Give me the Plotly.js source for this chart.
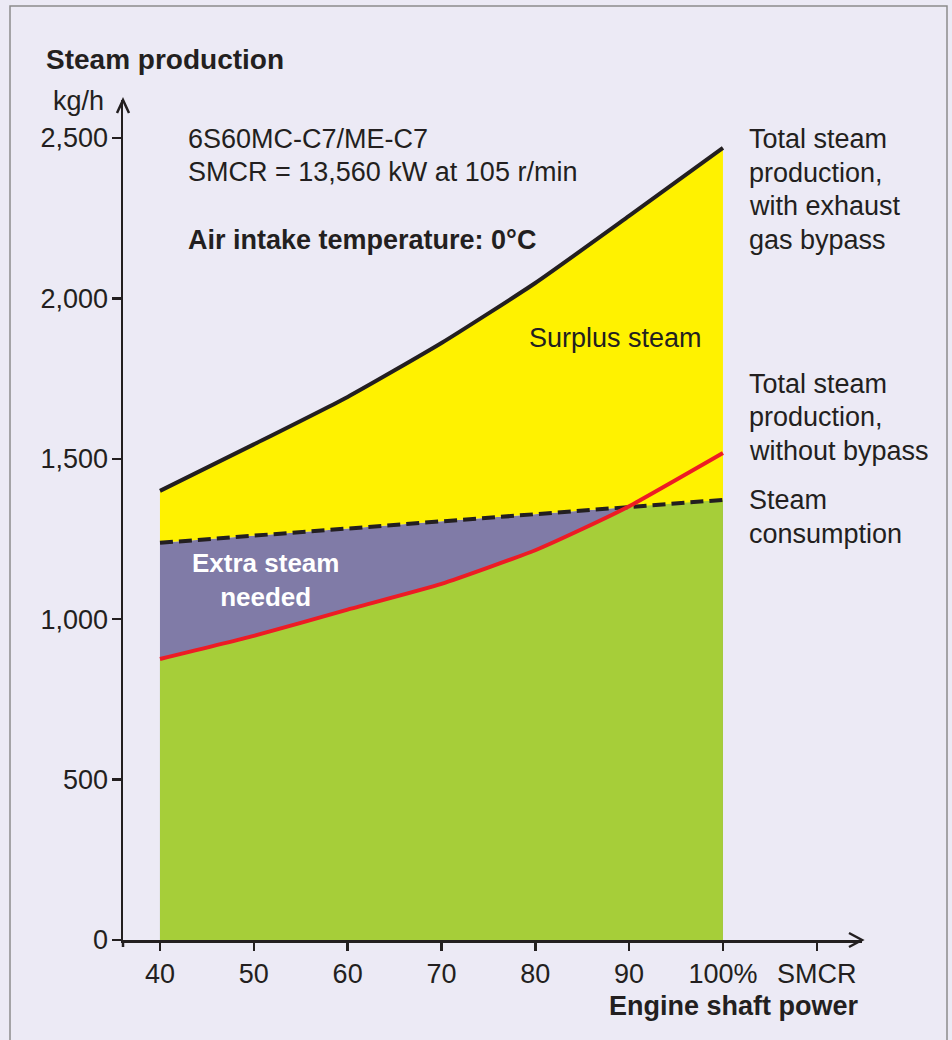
<!DOCTYPE html>
<html>
<head>
<meta charset="utf-8">
<script src="https://cdn.plot.ly/plotly-3.0.1.min.js"></script>
<style>
html,body{margin:0;padding:0;background:#eceaf5;}
#chart{width:952px;height:1040px;}
</style>
</head>
<body>
<div id="chart"></div>
<script>
// ---- data ----
const xPower = [40, 50, 60, 70, 80, 90, 100];
const steamWithBypass = [1400, 1545, 1693, 1861, 2048, 2257, 2469];
const steamConsumption = [1238, 1260, 1282, 1305, 1327, 1350, 1372];
const xPowerNoBypass = [40, 50, 60, 70, 80, 85, 90, 100];
const steamWithoutBypass = [876, 948, 1030, 1110, 1215, 1281, 1352, 1518];

const xTickVals = [40, 50, 60, 70, 80, 90, 100, 110];
const xTickText = ['40', '50', '60', '70', '80', '90', '100%', 'SMCR'];
const yTickVals = [0, 500, 1000, 1500, 2000, 2500];
const yTickText = ['0', '500', '1,000', '1,500', '2,000', '2,500'];

// ---- styling ----
const INK = '#231f20';
const BG = '#eceaf5';
const YELLOW = '#fff200';
const PURPLE = '#807ba7';
const GREEN = '#a6ce39';
const RED = '#ed1c24';
const FONT = 'Liberation Sans, Arial, sans-serif';
const FS = 27;

const W = 952, H = 1040;
const ML = 123, MR = 90, MT = 100, MB = 100;
const PW = W - ML - MR, PH = H - MT - MB;
const px = x => (x - ML) / PW;
const py = y => (H - MB - y) / PH;

const common = {mode: 'lines', hoverinfo: 'skip', showlegend: false};
const sp = {shape: 'spline', smoothing: 0.5};
const traces = [
  Object.assign({x: xPower, y: steamConsumption, fill: 'tozeroy', fillcolor: PURPLE, line: {width: 0, color: PURPLE}}, common),
  Object.assign({x: xPowerNoBypass, y: steamWithoutBypass, fill: 'tozeroy', fillcolor: GREEN, line: Object.assign({width: 0, color: GREEN}, sp)}, common),
  Object.assign({x: xPower, y: steamConsumption, line: {width: 0, color: YELLOW}}, common),
  Object.assign({x: xPower, y: steamWithBypass, fill: 'tonexty', fillcolor: YELLOW, line: Object.assign({width: 0, color: YELLOW}, sp)}, common),
  Object.assign({x: xPower, y: steamConsumption, line: {width: 4, color: INK, dash: '13px,6px'}}, common),
  Object.assign({x: xPowerNoBypass, y: steamWithoutBypass, line: Object.assign({width: 4, color: RED}, sp)}, common),
  Object.assign({x: xPower, y: steamWithBypass, line: Object.assign({width: 4, color: INK}, sp)}, common)
];

function txt(text, x, y, opts) {
  return Object.assign({
    text: text, x: px(x), y: py(y), xref: 'paper', yref: 'paper',
    xanchor: 'left', yanchor: 'middle', showarrow: false,
    font: {family: FONT, size: FS, color: INK}
  }, opts || {});
}

const annotations = [
  txt('<b>Steam production</b>', 44, 60, {font: {family: FONT, size: 28, color: INK}}),
  txt('kg/h', 106, 101, {xanchor: 'right'}),
  txt('6S60MC-C7/ME-C7', 186, 139),
  txt('SMCR = 13,560 kW at 105 r/min', 186, 172),
  txt('<b>Air intake temperature: 0°C</b>', 186, 240),
  txt('Surplus steam', 527, 338),
  txt('<b>Extra steam<br>needed</b>', 265, 580, {xanchor: 'center', align: 'center', font: {family: FONT, size: 26, color: '#ffffff'}}),
  txt('Total steam', 747, 139),
  txt('production,', 747, 173),
  txt('with exhaust', 747, 206),
  txt('gas bypass', 747, 240),
  txt('Total steam', 747, 384),
  txt('production,', 747, 417),
  txt('without bypass', 747, 451),
  txt('Steam', 747, 500),
  txt('consumption', 747, 534),
  txt('<b>Engine shaft power</b>', 861, 1006, {xanchor: 'right'})
];

const shapes = [
  // border
  {type: 'rect', xref: 'paper', yref: 'paper', x0: px(10), x1: px(947), y0: py(1060), y1: py(6),
   line: {color: '#8c8c8c', width: 1.5}, fillcolor: 'rgba(0,0,0,0)', layer: 'below'},
  // y axis extension below zero
  {type: 'line', xref: 'paper', yref: 'paper', x0: px(ML), x1: px(ML), y0: py(940), y1: py(947),
   line: {color: INK, width: 2.5}},
  // y arrow head
  {type: 'path', xref: 'paper', yref: 'paper',
   path: `M ${px(117)},${py(113)} L ${px(123)},${py(100)} L ${px(129)},${py(113)}`,
   line: {color: INK, width: 2.5}},
  // x arrow head
  {type: 'path', xref: 'paper', yref: 'paper',
   path: `M ${px(849)},${py(933)} L ${px(862)},${py(940)} L ${px(849)},${py(947)}`,
   line: {color: INK, width: 2.5}}
];

const xr0 = 36.06, xppu = 9.383;
const yppu = 0.3208;

const layout = {
  width: W, height: H,
  margin: {l: ML, r: MR, t: MT, b: MB, pad: 0},
  paper_bgcolor: BG, plot_bgcolor: BG,
  showlegend: false,
  xaxis: {
    range: [xr0, xr0 + PW / xppu],
    tickvals: xTickVals, ticktext: xTickText,
    ticks: 'outside', ticklen: 8, tickwidth: 2.5, tickcolor: INK,
    showline: true, linewidth: 2.5, linecolor: INK,
    showgrid: false, zeroline: false, fixedrange: true,
    tickfont: {family: FONT, size: FS, color: INK}
  },
  yaxis: {
    range: [0, PH / yppu],
    tickvals: yTickVals, ticktext: yTickText,
    ticks: 'outside', ticklen: 9, tickwidth: 2.5, tickcolor: INK,
    showline: true, linewidth: 2.5, linecolor: INK,
    showgrid: false, zeroline: false, fixedrange: true,
    tickfont: {family: FONT, size: FS, color: INK},
    ticklabelstandoff: -2
  },
  annotations: annotations,
  shapes: shapes
};

Plotly.newPlot('chart', traces, layout, {displayModeBar: false, staticPlot: true});
</script>
</body>
</html>
